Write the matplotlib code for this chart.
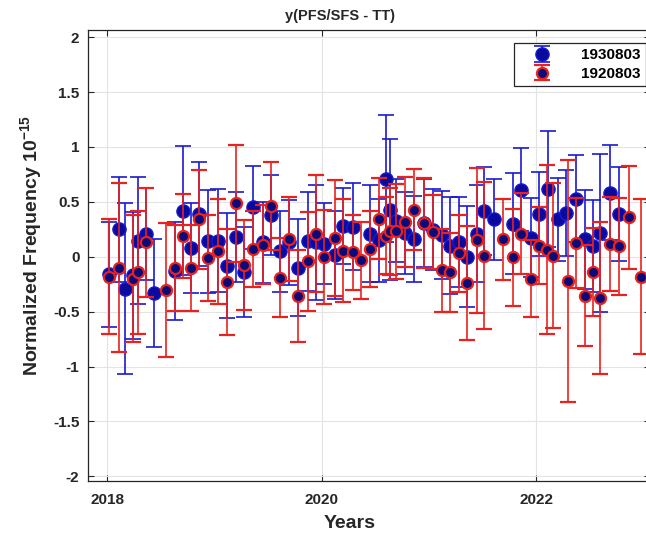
import matplotlib
matplotlib.use("Agg")
import matplotlib.pyplot as plt

plt.rcParams['font.family'] = ['Liberation Sans', 'DejaVu Sans']
plt.rcParams['mathtext.fontset'] = 'custom'
plt.rcParams['mathtext.rm'] = 'Liberation Sans'
plt.rcParams['mathtext.bf'] = 'Liberation Sans:bold'
plt.rcParams['mathtext.default'] = 'bf'

# receiver 1930803 (blue)
x_1930803 = [2018.02, 2018.11, 2018.17, 2018.24, 2018.29, 2018.36, 2018.44, 2018.63,
             2018.71, 2018.78, 2018.86, 2018.94, 2019.03, 2019.12, 2019.20, 2019.28,
             2019.36, 2019.45, 2019.53, 2019.61, 2019.70, 2019.78, 2019.87, 2019.95,
             2020.02, 2020.12, 2020.20, 2020.29, 2020.45, 2020.53, 2020.60, 2020.64,
             2020.69, 2020.78, 2020.86, 2020.95, 2021.04, 2021.12, 2021.20, 2021.28,
             2021.35, 2021.45, 2021.51, 2021.61, 2021.78, 2021.86, 2021.95, 2022.03,
             2022.11, 2022.20, 2022.28, 2022.37, 2022.45, 2022.53, 2022.59, 2022.69,
             2022.77]
y_1930803 = [-0.16, 0.25, -0.29, -0.17, 0.145, 0.21, -0.33, -0.13,
             0.42, 0.076, 0.39, 0.14, 0.145, -0.08, 0.18, -0.14,
             0.45, 0.13, 0.38, 0.05, 0.13, -0.10, 0.14, 0.13,
             0.12, 0.015, 0.28, 0.275, 0.21, 0.15, 0.71, 0.43,
             0.33, 0.215, 0.16, 0.305, 0.245, 0.20, 0.10, 0.13,
             0.0, 0.21, 0.42, 0.34, 0.30, 0.61, 0.175, 0.39,
             0.615, 0.34, 0.40, 0.53, 0.16, 0.10, 0.22, 0.585,
             0.39]
e_1930803 = [0.48, 0.48, 0.78, 0.58, 0.58, 0.42, 0.49, 0.45,
             0.59, 0.41, 0.47, 0.47, 0.47, 0.48, 0.41, 0.41,
             0.38, 0.37, 0.36, 0.37, 0.39, 0.44, 0.45, 0.52,
             0.37, 0.40, 0.345, 0.40, 0.44, 0.38, 0.58, 0.64,
             0.375, 0.375, 0.39, 0.40, 0.37, 0.40, 0.44, 0.41,
             0.46, 0.44, 0.40, 0.37, 0.46, 0.38, 0.36, 0.385,
             0.53, 0.375, 0.39, 0.40, 0.45, 0.42, 0.72, 0.43,
             0.43]

# receiver 1920803 (red)
x_1920803 = [2018.02, 2018.11, 2018.24, 2018.29, 2018.36, 2018.55, 2018.63, 2018.71,
             2018.78, 2018.86, 2018.94, 2019.03, 2019.12, 2019.20, 2019.28, 2019.36,
             2019.45, 2019.53, 2019.61, 2019.70, 2019.78, 2019.87, 2019.95, 2020.02,
             2020.12, 2020.20, 2020.29, 2020.37, 2020.45, 2020.53, 2020.60, 2020.64,
             2020.69, 2020.78, 2020.86, 2020.95, 2021.04, 2021.12, 2021.20, 2021.28,
             2021.35, 2021.45, 2021.51, 2021.69, 2021.78, 2021.86, 2021.95, 2022.03,
             2022.10, 2022.16, 2022.30, 2022.37, 2022.45, 2022.53, 2022.59, 2022.69,
             2022.77, 2022.86, 2022.98]
y_1920803 = [-0.18, -0.10, -0.20, -0.14, 0.13, -0.30, -0.10, 0.19,
             -0.10, 0.34, -0.01, 0.05, -0.23, 0.485, -0.075, 0.07,
             0.11, 0.46, -0.19, 0.16, -0.355, -0.04, 0.21, -0.005,
             0.17, 0.055, 0.04, -0.033, 0.07, 0.345, 0.19, 0.23,
             0.23, 0.315, 0.43, 0.305, 0.225, -0.125, -0.14, 0.033,
             -0.24, 0.15, 0.01, 0.16, -0.006, 0.21, -0.20, 0.10,
             0.064, 0.01, -0.22, 0.125, -0.355, -0.14, -0.375, 0.115,
             0.094, 0.36, -0.18]
e_1920803 = [0.52, 0.77, 0.58, 0.56, 0.50, 0.61, 0.39, 0.38,
             0.39, 0.45, 0.39, 0.48, 0.48, 0.53, 0.41, 0.35,
             0.36, 0.40, 0.36, 0.38, 0.42, 0.45, 0.53, 0.43,
             0.53, 0.47, 0.34, 0.35, 0.35, 0.37, 0.35, 0.40,
             0.43, 0.41, 0.37, 0.41, 0.34, 0.375, 0.36, 0.35,
             0.52, 0.66, 0.67, 0.37, 0.44, 0.37, 0.35, 0.35,
             0.77, 0.66, 1.10, 0.41, 0.46, 0.40, 0.69, 0.43,
             0.44, 0.47, 0.71]

fig = plt.figure(figsize=(6.46, 5.40), dpi=100)
ax = fig.add_axes([0.1358, 0.1098, 0.8704, 0.8346])

ax.errorbar(x_1930803, y_1930803, yerr=e_1930803, fmt='o', color='#1a1ad0',
            mfc='#0a0a9c', mec='#1a1ad0', ms=9.5, elinewidth=1.2, capsize=6,
            capthick=1.2, label='1930803', zorder=3)
ax.errorbar(x_1920803, y_1920803, yerr=e_1920803, fmt='o', color='#e8221e',
            mfc='#0a0a78', mec='#e8221e', mew=1.6, ms=8, elinewidth=1.2,
            capsize=6, capthick=1.2, label='1920803', zorder=4)

ax.set_xlim(2017.82, 2023.06)
ax.set_ylim(-2.04, 2.065)
ax.set_xticks([2018, 2020, 2022])
ax.set_yticks([-2, -1.5, -1, -0.5, 0, 0.5, 1, 1.5, 2])
ax.set_yticklabels(['-2', '-1.5', '-1', '-0.5', '0', '0.5', '1', '1.5', '2'])
ax.tick_params(direction='in', top=True, right=True, labelsize=11, colors='#262626',
               length=4, width=0.8)
ax.tick_params(axis='x', pad=9)
ax.tick_params(axis='y', pad=6)
for lab in ax.get_xticklabels() + ax.get_yticklabels():
    lab.set_fontweight('bold')

ax.grid(True, color='#e3e3e3', linewidth=0.8)
ax.set_axisbelow(True)
for sp in ax.spines.values():
    sp.set_color('#262626')
    sp.set_linewidth(0.9)

ax.set_title('y(PFS/SFS - TT)', x=0.4487, pad=7, fontsize=10.5, fontweight='bold',
             color='#262626')
ax.set_xlabel('Years', fontsize=14, fontweight='bold', color='#262626')
ax.xaxis.set_label_coords(0.4665, -0.075)
ax.set_ylabel('Normalized Frequency 10$^{-15}$', fontsize=14, fontweight='bold',
              color='#262626')
ax.yaxis.set_label_coords(-0.078, 0.523)

leg = ax.legend(loc='upper right', bbox_to_anchor=(1.0, 0.9204),
                bbox_transform=fig.transFigure, borderaxespad=0, fancybox=False,
                edgecolor='#262626', framealpha=1, prop={'weight': 'bold', 'size': 11},
                handlelength=2.95, handletextpad=1.08, borderpad=0.35, labelspacing=0.3)
leg.get_frame().set_linewidth(0.9)

fig.savefig('out.png', dpi=100)
